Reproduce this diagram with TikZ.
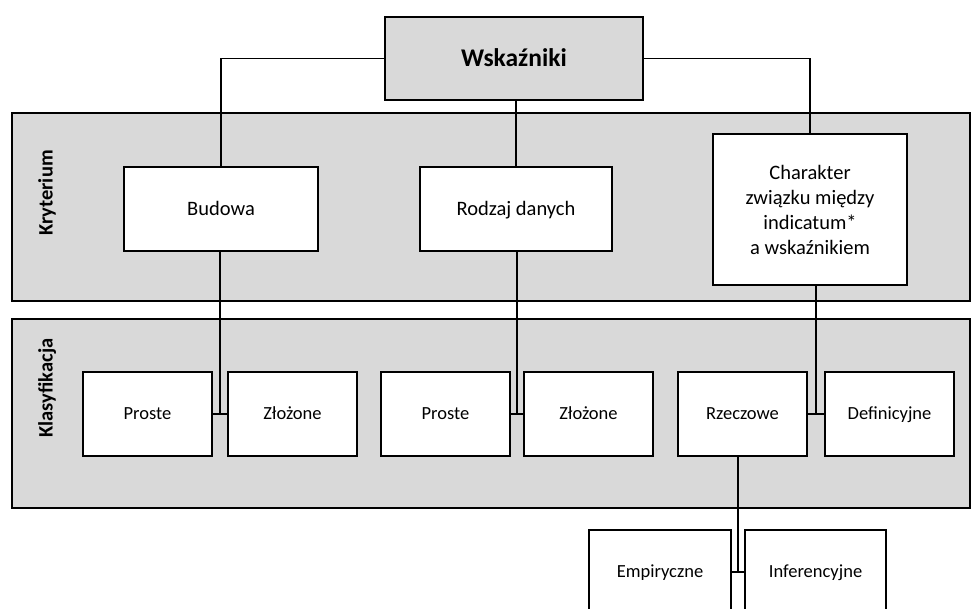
\documentclass[tikz,border=0pt]{standalone}
\usepackage{fontspec}
\setmainfont{Carlito}
\usetikzlibrary{calc}
\definecolor{panelgray}{HTML}{D9D9D9}
\begin{document}
\begin{tikzpicture}[x=1pt,y=-1pt,
  panel/.style={draw, fill=panelgray, line width=1.8pt, minimum width=958pt, minimum height=#1, inner sep=0pt},
  box/.style={draw, fill=white, line width=1.8pt, align=center, inner sep=0pt, font=\fontsize{20.5}{25}\selectfont},
  onebox/.style={box, text height=13.2pt, text depth=0pt},
  rowbox/.style={draw, fill=white, line width=1.8pt, minimum height=84pt, inner sep=0pt, text height=11.9pt, text depth=0pt, font=\fontsize{18.5}{22}\selectfont},
  conn/.style={line width=1.8pt},
  sidelabel/.style={rotate=90, text height=13.2pt, text depth=0pt, font=\fontsize{20.5}{24}\selectfont\bfseries}]
\useasboundingbox (0,0) rectangle (973,608);
\clip (0,0) rectangle (973,608);
% panels
\node[panel=188pt] (PK) at (491,207) {};
\node[panel=189pt] (PL) at (491,413.5) {};
\node[sidelabel] (LK) at (46,193) {Kryterium};
\node[sidelabel] (LL) at (46,388) {Klasyfikacja};
% nodes
\node[onebox, fill=panelgray, minimum width=258pt, minimum height=83pt, text height=16.4pt, font=\fontsize{25.5}{30}\selectfont\bfseries] (W) at (514,58.5) {Wskaźniki};
\node[onebox, minimum width=194pt, minimum height=84pt] (B) at (221,209) {Budowa};
\node[onebox, minimum width=192pt, minimum height=84pt] (Rd) at (516,209) {Rodzaj danych};
\node[box, minimum width=194pt, minimum height=151pt] (C) at (810,209.5) {Charakter\\związku między\\indicatum*\\a wskaźnikiem};
\node[rowbox, minimum width=129pt] (P1) at (147.5,414) {Proste};
\node[rowbox, minimum width=129pt] (Z1) at (292.5,414) {Złożone};
\node[rowbox, minimum width=129pt] (P2) at (445.5,414) {Proste};
\node[rowbox, minimum width=129pt] (Z2) at (588.5,414) {Złożone};
\node[rowbox, minimum width=129pt] (R) at (742.5,414) {Rzeczowe};
\node[rowbox, minimum width=129pt] (D) at (889.5,414) {Definicyjne};
\node[rowbox, minimum width=142pt] (E) at (660,572) {Empiryczne};
\node[rowbox, minimum width=141pt] (I) at (815.5,572) {Inferencyjne};
% junction points
\coordinate (g1) at ($(P1.east)!0.5!(Z1.west)$);
\coordinate (g2) at ($(P2.east)!0.5!(Z2.west)$);
\coordinate (g3) at ($(R.east)!0.5!(D.west)$);
\coordinate (g4) at ($(E.east)!0.5!(I.west)$);
% connectors
\draw[conn] (W.west) -| (B.north);
\draw[conn] (W.east) -| (C.north);
\draw[conn] (W.south -| Rd.north) -- (Rd.north);
\draw[conn] (B.south -| g1) -- (g1);
\draw[conn] (Rd.south -| g2) -- (g2);
\draw[conn] (C.south -| g3) -- (g3);
\draw[conn] (R.south -| g4) -- (g4);
\draw[conn] (P1.east) -- (Z1.west);
\draw[conn] (P2.east) -- (Z2.west);
\draw[conn] (R.east) -- (D.west);
\draw[conn] (E.east) -- (I.west);
\end{tikzpicture}
\end{document}
